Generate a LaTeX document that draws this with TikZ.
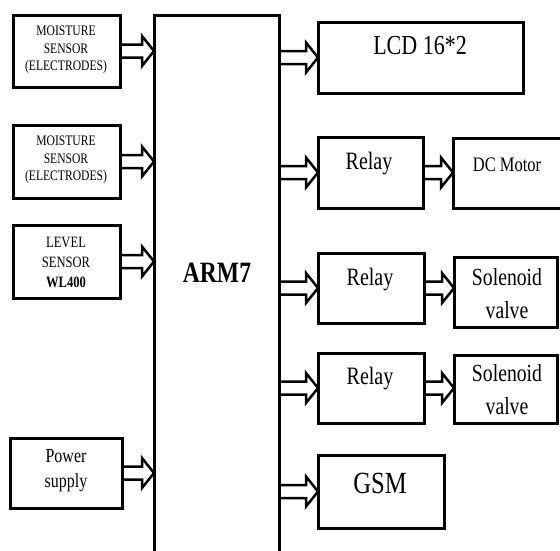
\documentclass[tikz,border=0pt]{standalone}
\usepackage{fontspec}
\setmainfont{Liberation Serif}
\usepackage{graphicx}
\usetikzlibrary{fit,calc}
\newcommand\vs[1]{\scalebox{1}[1.25]{#1}}
\tikzset{
  blk/.style={draw=black, line width=3pt, inner sep=0pt, outer sep=0pt},
  lbl/.style={inner sep=0pt, outer sep=0pt, align=center, text=black},
  arr/.style={draw=black, line width=2.5pt, line join=miter, line cap=butt},
}
\newcommand\blockarrow[2]{\draw[arr] let \p1=(#1), \p2=(#2) in
  (\x1,\y1+6.5pt) -- (\x2-12pt,\y1+6.5pt) -- (\x2-12pt,\y1+15pt) -- (\x2,\y1)
  -- (\x2-12pt,\y1-15pt) -- (\x2-12pt,\y1-6.5pt) -- (\x1,\y1-6.5pt);}
\begin{document}
\begin{tikzpicture}[x=1pt,y=-1pt]
\fill[white] (0,0) rectangle (560,550);
\useasboundingbox (0,0) rectangle (560,550);

% boxes
\node[blk, fit={(13,15) (120,87)}] (m1) {};
\node[blk, fit={(13,125) (120,198)}] (m2) {};
\node[blk, fit={(13,225) (120,298)}] (lv) {};
\node[blk, fit={(10,438) (122,508)}] (pw) {};
\node[blk, fit={(154,15) (279,580)}] (arm) {};
\node[blk, fit={(318,22) (523,93)}] (lcd) {};
\node[blk, fit={(318,137) (423,208)}] (r1) {};
\node[blk, fit={(453,138) (575,208)}] (dc) {};
\node[blk, fit={(318,253) (424,323)}] (r2) {};
\node[blk, fit={(454,257) (557,327)}] (s1) {};
\node[blk, fit={(318,353) (424,423)}] (r3) {};
\node[blk, fit={(454,355) (557,423)}] (s2) {};
\node[blk, fit={(318,455) (444,528)}] (gsm) {};

% arrows
\blockarrow{m1.east}{m1.east -| arm.west}
\blockarrow{m2.east}{m2.east -| arm.west}
\blockarrow{lv.east}{lv.east -| arm.west}
\blockarrow{pw.east}{pw.east -| arm.west}
\blockarrow{lcd.west -| arm.east}{lcd.west}
\blockarrow{r1.west -| arm.east}{r1.west}
\blockarrow{r2.west -| arm.east}{r2.west}
\blockarrow{r3.west -| arm.east}{r3.west}
\blockarrow{gsm.west -| arm.east}{gsm.west}
\blockarrow{r1.east}{r1.east -| dc.west}
\blockarrow{r2.east}{r2.east -| s1.west}
\blockarrow{r3.east}{r3.east -| s2.west}

% labels
\node[lbl, font=\fontsize{11.6}{17.5}\selectfont] (tm1) at (66,50) {\vs{MOISTURE}\\\vs{SENSOR}\\\vs{(ELECTRODES)}};
\node[lbl, font=\fontsize{11.6}{17.5}\selectfont] (tm2) at (66,160) {\vs{MOISTURE}\\\vs{SENSOR}\\\vs{(ELECTRODES)}};
\node[lbl, font=\fontsize{12.6}{20}\selectfont] (tlv) at (66,262) {\vs{LEVEL}\\\vs{SENSOR}\\\vs{\textbf{WL400}}};
\node[lbl, font=\fontsize{16}{25}\selectfont] (tpw) at (66,471) {\vs{Power}\\\vs{supply}};
\node[lbl, font=\fontsize{23.6}{28}\selectfont\bfseries] (tarm) at (217,273) {\vs{ARM7}};
\node[lbl, font=\fontsize{22}{26}\selectfont] (tlcd) at (420,46) {\vs{LCD 16*2}};
\node[lbl, font=\fontsize{20}{24}\selectfont] (tr1) at (369,164) {\vs{Relay}};
\node[lbl, font=\fontsize{16.5}{20}\selectfont] (tdc) at (507,165) {\vs{DC Motor}};
\node[lbl, font=\fontsize{20}{24}\selectfont] (tr2) at (370,280) {\vs{Relay}};
\node[lbl, font=\fontsize{19.7}{33}\selectfont] (ts1) at (507,294) {\vs{Solenoid}\\\vs{valve}};
\node[lbl, font=\fontsize{20}{24}\selectfont] (tr3) at (370,379) {\vs{Relay}};
\node[lbl, font=\fontsize{19.7}{33}\selectfont] (ts2) at (507,390) {\vs{Solenoid}\\\vs{valve}};
\node[lbl, font=\fontsize{24.6}{28}\selectfont] (tgsm) at (380,483) {\vs{GSM}};
\end{tikzpicture}
\end{document}
